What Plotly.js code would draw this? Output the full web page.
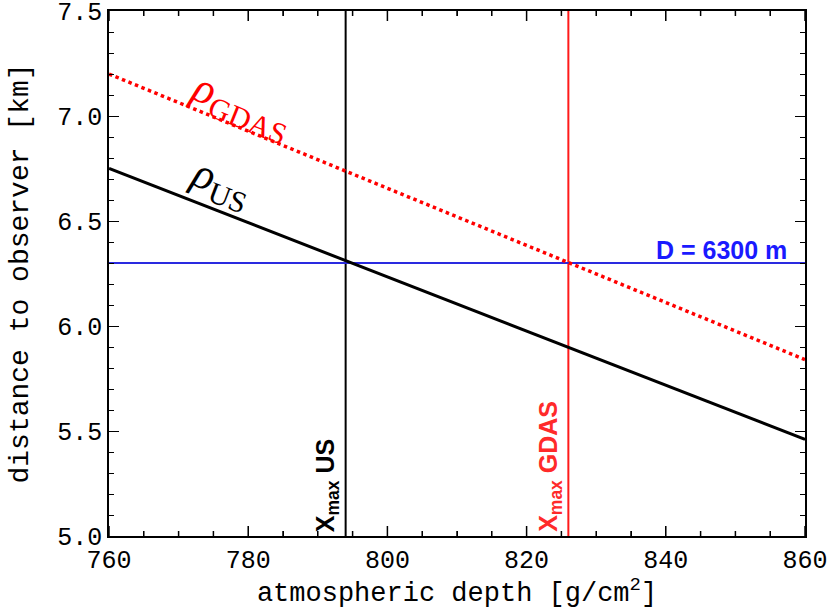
<!DOCTYPE html>
<html>
<head>
<meta charset="utf-8">
<script src="https://cdn.plot.ly/plotly-3.0.1.min.js"></script>
<style>body{margin:0;padding:0;background:#fff}#chart{width:830px;height:609px}</style>
</head>
<body>
<div id="chart"></div>
<script>
// Data
const depth = [760, 860];
const distUS = [6.75, 5.46];
const distGDAS = [7.20, 5.84];
const xmaxUS = 794;
const xmaxGDAS = 826;
const distD = 6.3;
const xRange = [760, 860];
const yRange = [5.0, 7.5];
const xTicks = [760, 780, 800, 820, 840, 860];
const xMinorTicks = [765, 770, 775, 785, 790, 795, 805, 810, 815, 825, 830, 835, 845, 850, 855];
const yTicks = [5.0, 5.5, 6.0, 6.5, 7.0, 7.5];
const yTickText = ['5.0', '5.5', '6.0', '6.5', '7.0', '7.5'];

const traces = [
  {x: [xmaxUS, xmaxUS], y: yRange, mode: 'lines', line: {color: '#000000', width: 2}, hoverinfo: 'skip'},
  {x: [xmaxGDAS, xmaxGDAS], y: yRange, mode: 'lines', line: {color: '#ff1a1a', width: 2}, hoverinfo: 'skip'},
  {x: xRange, y: [distD, distD], mode: 'lines', line: {color: '#2a2ae0', width: 2}, hoverinfo: 'skip'},
  {x: depth, y: distGDAS, mode: 'lines', line: {color: '#ff0000', width: 3.5, dash: 'dot'}},
  {x: depth, y: distUS, mode: 'lines', line: {color: '#000000', width: 3}}
];

// tick marks on bottom and top frame edges as pixel-sized shapes anchored to the data scales
function edgeTickShapes(vals, len) {
  const out = [];
  vals.forEach(v => {
    out.push({type: 'line', xref: 'x', yref: 'y', ysizemode: 'pixel', yanchor: yRange[0],
              x0: v, x1: v, y0: 0, y1: len, line: {color: 'black', width: 1.5}, layer: 'above'});
    out.push({type: 'line', xref: 'x', yref: 'y', ysizemode: 'pixel', yanchor: yRange[1],
              x0: v, x1: v, y0: 0, y1: -len, line: {color: 'black', width: 1.5}, layer: 'above'});
  });
  return out;
}

const monoFont = 'Liberation Mono';

const layout = {
  width: 830, height: 609,
  margin: {l: 109, r: 25, t: 11, b: 73},
  paper_bgcolor: '#fff', plot_bgcolor: '#fff',
  showlegend: false,
  xaxis: {
    showgrid: false, zeroline: false, showline: true, linecolor: 'black', linewidth: 1.5, mirror: 'allticks',
    ticks: 'inside', ticklen: 10, tickwidth: 1.2, tickcolor: 'black',
    tickfont: {family: monoFont, size: 25, color: '#000'}, ticklabeloverflow: 'allow',
    range: [760, 860.0001], tickmode: 'array', tickvals: xTicks,
    minor: {dtick: 5, ticks: 'inside', ticklen: 5, tickcolor: 'black', tickwidth: 1.2},
    title: {text: 'atmospheric depth [g/cm<sup>2</sup>]', font: {family: monoFont, size: 27, color: '#000'}}
  },
  yaxis: {
    showgrid: false, zeroline: false, showline: true, linecolor: 'black', linewidth: 1.5, mirror: 'allticks',
    ticks: 'inside', ticklen: 10, tickwidth: 1.2, tickcolor: 'black',
    tickfont: {family: monoFont, size: 25, color: '#000'}, ticklabeloverflow: 'allow',
    range: [5.0, 7.5001], tickmode: 'array', tickvals: yTicks, ticktext: yTickText,
    minor: {dtick: 0.1, ticks: 'inside', ticklen: 5, tickcolor: 'black', tickwidth: 1.2},
    title: {text: 'distance to observer [km]', font: {family: monoFont, size: 28, color: '#000'}, standoff: 20}
  },
  shapes: edgeTickShapes(xTicks, 10).concat(edgeTickShapes(xMinorTicks, 5)),
  annotations: [
    {x: 860, y: distD, xref: 'x', yref: 'y', xanchor: 'right', yanchor: 'bottom', xshift: -16, yshift: -3,
     text: '<b>D = 6300 m</b>', showarrow: false,
     font: {family: 'Liberation Sans', size: 25, color: '#1a1aff'}},
    {x: xmaxUS, y: 5.0, xref: 'x', yref: 'y', xanchor: 'right', yanchor: 'bottom', xshift: -1, yshift: 2,
     textangle: -90, text: '<b>X<sub>max</sub> US</b>', showarrow: false,
     font: {family: 'Liberation Sans', size: 25, color: '#000'}},
    {x: xmaxGDAS, y: 5.0, xref: 'x', yref: 'y', xanchor: 'right', yanchor: 'bottom', xshift: -1, yshift: 2,
     textangle: -90, text: '<b>X<sub>max</sub> GDAS</b>', showarrow: false,
     font: {family: 'Liberation Sans', size: 25, color: '#ff2a2a'}},
    {x: 779.0, y: 7.05, xref: 'x', yref: 'y', textangle: 22,
     text: '<i>ρ</i><sub><span style="font-size:30px">GDAS</span></sub>', showarrow: false,
     font: {family: 'Liberation Serif', size: 44, color: '#ff0000'}},
    {x: 776.0, y: 6.68, xref: 'x', yref: 'y', textangle: 21,
     text: '<i>ρ</i><sub><span style="font-size:30px">US</span></sub>', showarrow: false,
     font: {family: 'Liberation Serif', size: 44, color: '#000'}}
  ]
};

Plotly.newPlot('chart', traces, layout, {displayModeBar: false});
</script>
</body>
</html>
